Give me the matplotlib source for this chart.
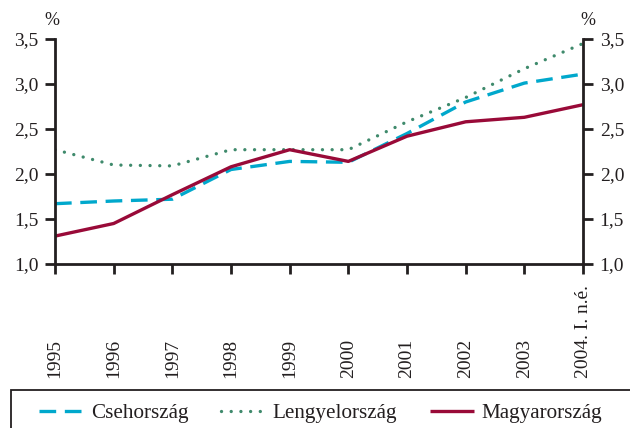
import matplotlib
matplotlib.use("Agg")
import matplotlib.pyplot as plt
from matplotlib.patches import Rectangle

years = ["1995", "1996", "1997", "1998", "1999", "2000", "2001", "2002", "2003", "2004. I. n.é."]
cseh = [1.67, 1.70, 1.72, 2.05, 2.14, 2.13, 2.45, 2.80, 3.01, 3.11]
lengyel = [2.27, 2.10, 2.09, 2.27, 2.27, 2.27, 2.58, 2.85, 3.17, 3.45]
magyar = [1.31, 1.45, 1.77, 2.08, 2.27, 2.14, 2.42, 2.58, 2.63, 2.77]
yticks = [1.0, 1.5, 2.0, 2.5, 3.0, 3.5]
ytick_labels = ["1,0", "1,5", "2,0", "2,5", "3,0", "3,5"]
series_names = ["Csehország", "Lengyelország", "Magyarország"]

plt.rcParams['font.family'] = ['Liberation Serif', 'DejaVu Serif']

fig = plt.figure(figsize=(6.3, 4.28), dpi=100)
ax = fig.add_axes([55/630, 1-264/428, (583-55)/630, 225/428])

x = list(range(len(years)))
c_cyan = "#00a8cc"
c_green = "#3f8a6c"
c_red = "#990a38"
ink = "#231f20"

l1, = ax.plot(x, cseh, color=c_cyan, lw=2.4, dashes=(5, 2.6), solid_capstyle='butt')
l2, = ax.plot(x, lengyel, color=c_green, lw=2.4, dashes=(0.01, 2.9), dash_capstyle='round')
l3, = ax.plot(x, magyar, color=c_red, lw=2.4, solid_capstyle='butt')

ax.set_xlim(0, len(years) - 1)
ax.set_ylim(1.0, 3.5)
ax.set_yticks(yticks)
ax.set_yticklabels(ytick_labels)
ax.set_xticks(x)
ax.set_xticklabels([])
ax.spines['top'].set_visible(False)
for s in ['left', 'right', 'bottom']:
    ax.spines[s].set_linewidth(2.0)
    ax.spines[s].set_color(ink)
ax.tick_params(axis='both', direction='out', length=7, width=2.0, color=ink,
               labelsize=14, labelcolor=ink)
ax.tick_params(axis='y', left=True, right=True, labelleft=True, labelright=True, pad=5)

for xi, lab in zip(x, years):
    ax.text(xi, -(378-264)/225, lab, transform=ax.get_xaxis_transform(), rotation=90,
            ha='center', va='bottom', fontsize=14, color=ink)

ax.text(-3/528, 1.045, "%", transform=ax.transAxes, ha='center', va='bottom', fontsize=13, color=ink)
ax.text(1 + 5/528, 1.045, "%", transform=ax.transAxes, ha='center', va='bottom', fontsize=13, color=ink)

# legend frame
fig.patches.append(Rectangle((11/630, -0.05), 1.0, 1-390/428+0.05, transform=fig.transFigure,
                             fill=False, edgecolor=ink, lw=1.3))
fig.legend([l1, l2, l3], series_names, loc='center', bbox_to_anchor=(0.509, 1-413/428),
           ncol=3, frameon=False, fontsize=15.2, handlelength=2.08, handletextpad=0.38,
           columnspacing=1.54, labelcolor=ink)

fig.savefig("out.png", dpi=100)
